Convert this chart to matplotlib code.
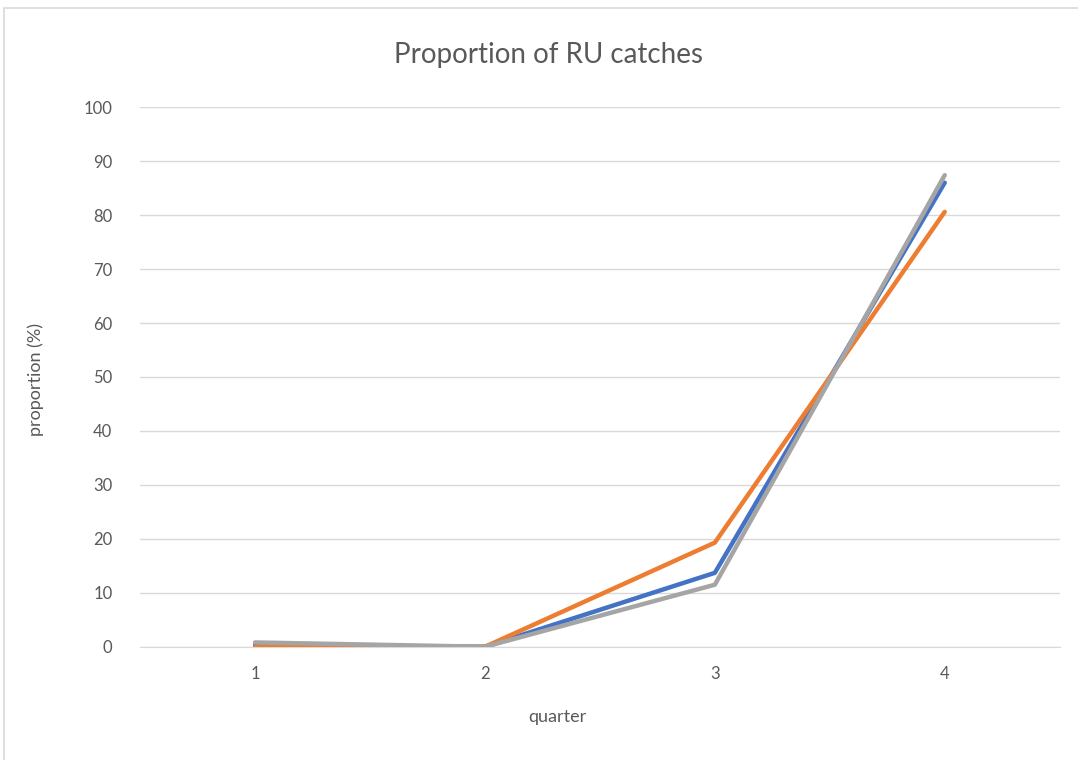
import matplotlib.pyplot as plt
from matplotlib.patches import Rectangle

# Datos
quarters = [1, 2, 3, 4]
serie_azul = [0.3, 0.0, 13.7, 86.0]
serie_naranja = [0.0, 0.0, 19.3, 80.6]
serie_gris = [0.8, 0.0, 11.5, 87.4]

plt.rcParams['font.family'] = ['Lato', 'DejaVu Sans']

fig = plt.figure(figsize=(10.78, 7.6), dpi=100)
ax = fig.add_axes([0.130, 0.149, 0.853, 0.710])

# Marco del gráfico
fig.patches.append(Rectangle((0.004, -0.01), 1.0, 1.0 - 0.004 + 0.003, transform=fig.transFigure,
                             fill=False, edgecolor='#D9D9D9', linewidth=1.2))

ax.plot(quarters, serie_azul, color='#4472C4', linewidth=3.2, solid_capstyle='round', zorder=3)
ax.plot(quarters, serie_naranja, color='#ED7D31', linewidth=3.2, solid_capstyle='round', zorder=3)
ax.plot(quarters, serie_gris, color='#A5A5A5', linewidth=3.2, solid_capstyle='round', zorder=3)

ax.set_xlim(0.5, 4.5)
ax.set_ylim(0, 100)
ax.set_yticks(range(0, 101, 10))
ax.set_xticks(quarters)
ax.grid(True, axis='y', color='#D9D9D9', linewidth=1)
ax.set_axisbelow(True)
for lado in ['top', 'right', 'left']:
    ax.spines[lado].set_visible(False)
ax.spines['bottom'].set_color('#D9D9D9')
ax.tick_params(length=0, labelsize=12, colors='#595959', pad=14)
ax.tick_params(axis='y', pad=20)

fig.text(0.509, 0.928, 'Proportion of RU catches', ha='center', va='center',
         fontsize=20, color='#595959')
fig.text(0.517, 0.056, 'quarter', ha='center', va='center', fontsize=13, color='#595959')
fig.text(0.033, 0.50, 'proportion (%)', ha='center', va='center', rotation=90,
         fontsize=13, color='#595959')

fig.savefig('out.png', dpi=100, facecolor='white')
